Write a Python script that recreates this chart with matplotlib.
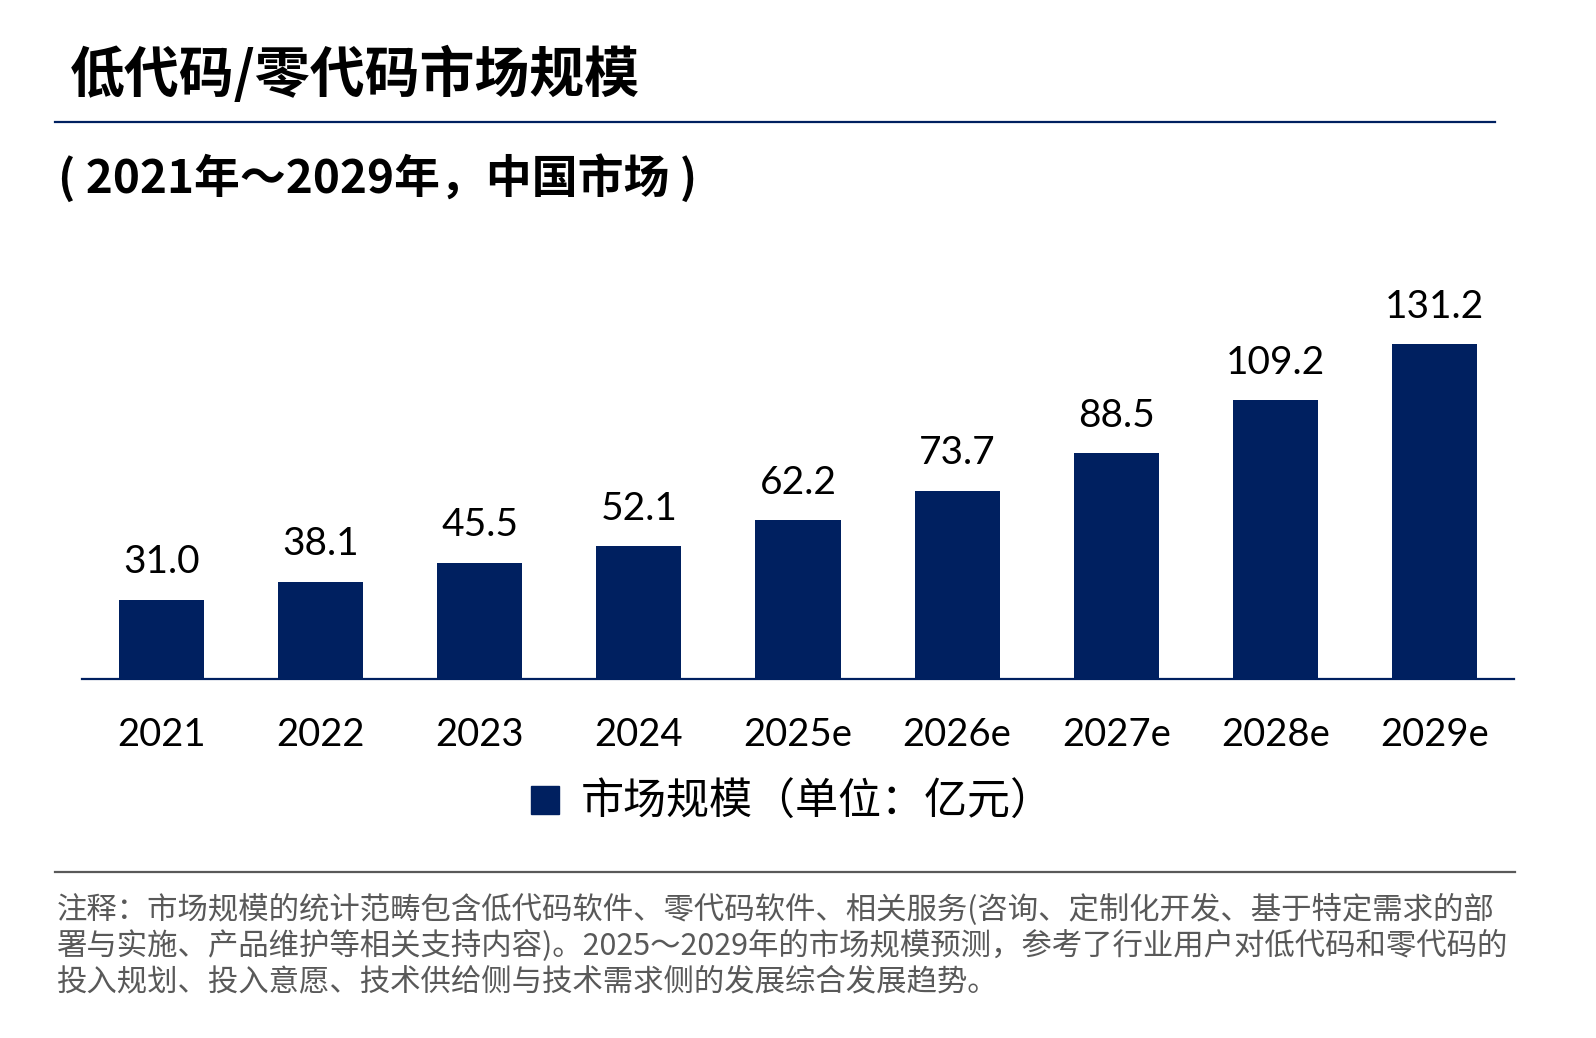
import matplotlib
matplotlib.use("Agg")
import matplotlib.pyplot as plt
from matplotlib.patches import Patch
from matplotlib.lines import Line2D

categories = ["2021", "2022", "2023", "2024", "2025e", "2026e", "2027e", "2028e", "2029e"]
values = [31.0, 38.1, 45.5, 52.1, 62.2, 73.7, 88.5, 109.2, 131.2]
title = "低代码/零代码市场规模"
subtitle = "( 2021年～2029年，中国市场 )"
legend_label = "市场规模（单位：亿元）"
notes = [
    "注释：市场规模的统计范畴包含低代码软件、零代码软件、相关服务(咨询、定制化开发、基于特定需求的部",
    "署与实施、产品维护等相关支持内容)。2025～2029年的市场规模预测，参考了行业用户对低代码和零代码的",
    "投入规划、投入意愿、技术供给侧与技术需求侧的发展综合发展趋势。",
]

NAVY = "#002060"
W, H = 1596, 1038
CJK = ["Noto Sans CJK SC", "DejaVu Sans"]
LAT = ["Lato", "Noto Sans CJK SC", "DejaVu Sans"]

fig = plt.figure(figsize=(W / 100, H / 100), dpi=100)
fig.patch.set_facecolor("white")

def fx(x):
    return x / W

def fy(y):
    return 1 - y / H

ax = fig.add_axes([fx(82), fy(679), fx(1514 - 82), (679 - 250) / H])
x = range(len(categories))
ax.bar(x, values, width=0.535, color=NAVY, zorder=2)
ax.set_xlim(-0.5, len(categories) - 0.5)
ax.set_ylim(0, 168.0)
for s in ["top", "left", "right"]:
    ax.spines[s].set_visible(False)
ax.spines["bottom"].set_color(NAVY)
ax.spines["bottom"].set_linewidth(1.6)
ax.set_yticks([])
ax.set_xticks(list(x))
ax.set_xticklabels(categories, family=LAT, fontsize=27.5, color="black")
ax.tick_params(axis="x", length=0, pad=27)
for i, v in enumerate(values):
    ax.annotate(f"{v:.1f}", (i, v), xytext=(0, 14), textcoords="offset points",
                ha="center", va="bottom", family=LAT, fontsize=28, color="black")

# Title and rules
fig.text(fx(70), fy(75), title, family=CJK, fontsize=39.5, fontweight="bold",
         ha="left", va="center", color="black")
fig.add_artist(Line2D([fx(55), fx(1495)], [fy(122), fy(122)], color=NAVY, lw=1.6))
fig.text(fx(58), fy(178), subtitle, family=CJK, fontsize=33, fontweight="bold",
         ha="left", va="center", color="black")

# Legend
handle = Patch(facecolor=NAVY, edgecolor=NAVY)
fig.legend([handle], [legend_label], loc="center",
           bbox_to_anchor=(fx(792), fy(803)), frameon=False,
           prop={"family": CJK, "size": 31}, handlelength=0.65, handleheight=0.65,
           handletextpad=0.5)

# Footnote
fig.add_artist(Line2D([fx(55), fx(1515)], [fy(872), fy(872)], color="#595959", lw=1.6))
for k, line in enumerate(notes):
    fig.text(fx(57), fy(910 + 36 * k), line, family=CJK, fontsize=21.9,
             ha="left", va="center", color="#595959")

fig.savefig("out.png", dpi=100, facecolor="white")
